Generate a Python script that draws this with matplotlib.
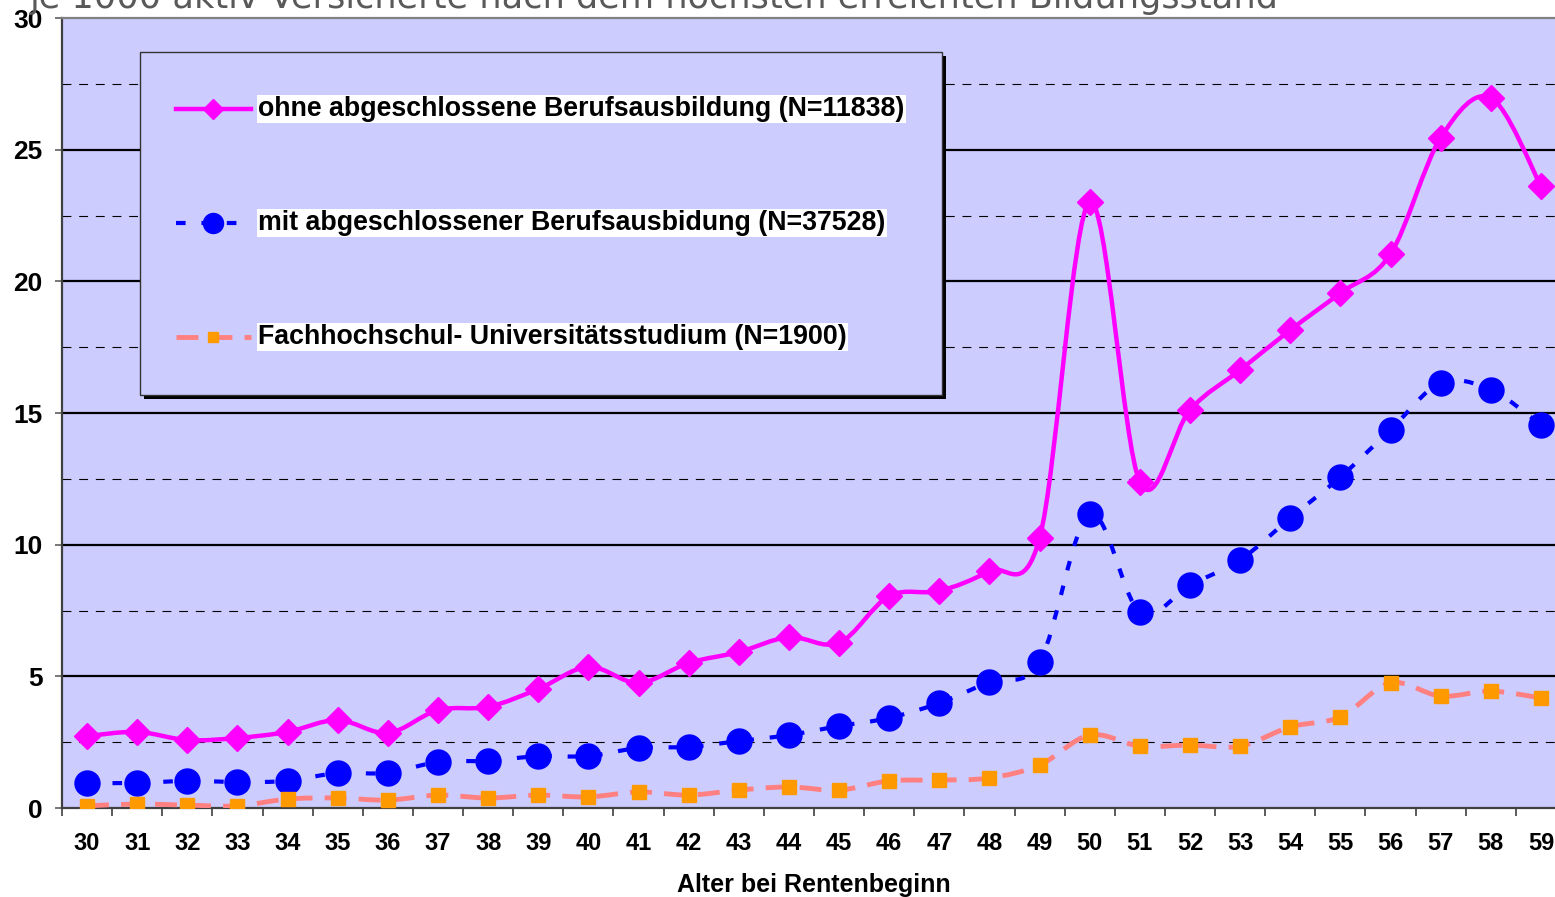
import numpy as np
import matplotlib
matplotlib.use("Agg")
import matplotlib.pyplot as plt
from matplotlib.path import Path
from matplotlib.patches import PathPatch, Rectangle
from matplotlib.lines import Line2D

# Daten: je 1000 aktiv Versicherte, nach Alter bei Rentenbeginn
alter = list(range(30, 60))
ohne_ausbildung = [2.73, 2.89, 2.58, 2.66, 2.89, 3.34, 2.85, 3.72, 3.84, 4.52,
                   5.36, 4.75, 5.51, 5.92, 6.49, 6.27, 8.05, 8.24, 9.00, 10.25,
                   23.02, 12.38, 15.12, 16.63, 18.15, 19.56, 21.04, 25.45, 26.97, 23.62]
mit_ausbildung = [0.95, 0.95, 1.03, 0.99, 1.03, 1.33, 1.33, 1.75, 1.79, 1.97,
                  1.97, 2.28, 2.32, 2.54, 2.77, 3.11, 3.42, 3.99, 4.79, 5.55,
                  11.17, 7.44, 8.47, 9.42, 11.01, 12.57, 14.36, 16.14, 15.88, 14.55]
studium = [0.08, 0.15, 0.11, 0.08, 0.34, 0.38, 0.30, 0.49, 0.38, 0.49,
           0.42, 0.61, 0.49, 0.68, 0.80, 0.68, 1.03, 1.06, 1.14, 1.63,
           2.77, 2.35, 2.39, 2.35, 3.08, 3.46, 4.75, 4.25, 4.44, 4.18]
labels = ["ohne abgeschlossene Berufsausbildung (N=11838)",
          "mit abgeschlossener Berufsausbidung (N=37528)",
          "Fachhochschul- Universitätsstudium (N=1900)"]
titel = "je 1000 aktiv Versicherte nach dem höchsten erreichten Bildungsstand"
xlabel = "Alter bei Rentenbeginn"

W, H = 1555, 897
BG = "#CCCCFF"


def fx(px):
    return px / W


def fy(py):
    return 1 - py / H


def smooth_path(xs, ys):
    # geglättete Linie wie in Excel: Bezier-Segmente zwischen den Punkten
    p = np.column_stack([xs, ys]).astype(float)
    n = len(p)
    verts = [p[0]]
    codes = [Path.MOVETO]
    for i in range(n - 1):
        p0 = p[i - 1] if i > 0 else p[i]
        p3 = p[i + 2] if i + 2 < n else p[i + 1]
        c1 = p[i] + (p[i + 1] - p0) / 6
        c2 = p[i + 1] - (p3 - p[i]) / 6
        verts += [c1, c2, p[i + 1]]
        codes += [Path.CURVE4] * 3
    return Path(verts, codes)


plt.rcParams['font.family'] = ['Liberation Sans', 'DejaVu Sans']

fig = plt.figure(figsize=(W / 100, H / 100), dpi=100)
ax = fig.add_axes([fx(62), fy(808), fx(1566) - fx(62), fy(18) - fy(808)])
ax.set_facecolor(BG)
ax.set_xlim(29.5, 59.5)
ax.set_ylim(0, 30)

# Gitternetz
for v in np.arange(5, 30, 5):
    ax.axhline(v, color="black", lw=1.6, zorder=1)
for v in np.arange(2.5, 30, 5):
    ax.axhline(v, color="black", lw=0.8, ls=(0, (8, 7)), zorder=1)

styles = [
    dict(data=ohne_ausbildung, color="#FF00FF", lw=3.2, ls="-",
         marker="D", ms=13, mfc="#FF00FF", mec="#FF00FF"),
    dict(data=mit_ausbildung, color="#0000FF", lw=3, ls=(0, (2.3, 3.8)),
         marker="o", ms=18, mfc="#0000FF", mec="#0000FF"),
    dict(data=studium, color="#FF8080", lw=3.5, ls=(0, (4.5, 2.5)),
         marker="s", ms=9.5, mfc="#FF9900", mec="#FF9900"),
]

for s in styles:
    path = smooth_path(alter, s["data"])
    ax.add_patch(PathPatch(path, fill=False, edgecolor=s["color"], lw=s["lw"],
                           ls=s["ls"], capstyle="butt", zorder=3))
    ax.plot(alter, s["data"], ls="none", marker=s["marker"], ms=s["ms"],
            mfc=s["mfc"], mec=s["mec"], mew=1, zorder=4)

# Achsen
ax.set_yticks(np.arange(0, 31, 5))
ax.set_yticklabels([str(v) for v in range(0, 31, 5)], fontsize=19, fontweight="bold")
ax.tick_params(axis="y", length=5, width=1.2, color="#606060", pad=9)
ax.set_xticks(alter)
ax.set_xticklabels([str(a) for a in alter], fontsize=17, fontweight="bold")
ax.set_xticks(np.arange(29.5, 60, 1), minor=True)
ax.tick_params(axis="x", which="major", length=0, pad=17)
ax.tick_params(axis="x", which="minor", length=6, width=1.2, color="#404040")
ax.set_xlabel(xlabel, fontsize=18, fontweight="bold", labelpad=13.5)

ax.spines["left"].set_color("#404040")
ax.spines["left"].set_linewidth(1.6)
ax.spines["top"].set_color("#808080")
ax.spines["top"].set_linewidth(1.6)
ax.spines["bottom"].set_color("#404040")
ax.spines["bottom"].set_linewidth(1.6)
ax.spines["right"].set_visible(False)

# Legende
lx0, ly0, lx1, ly1 = 140, 52, 942, 395
fig.patches.append(Rectangle((fx(lx0 + 4), fy(ly1 + 4)), fx(lx1 - lx0), fy(ly0) - fy(ly1),
                             transform=fig.transFigure, facecolor="black",
                             edgecolor="none", zorder=9))
fig.patches.append(Rectangle((fx(lx0), fy(ly1)), fx(lx1 - lx0), fy(ly0) - fy(ly1),
                             transform=fig.transFigure, facecolor=BG,
                             edgecolor="#333333", lw=1, zorder=10))
rows = [109, 223, 337]
for s, lab, ry in zip(styles, labels, rows):
    fig.add_artist(Line2D([fx(176), fx(251)], [fy(ry), fy(ry)],
                          transform=fig.transFigure, color=s["color"], lw=s["lw"],
                          ls=s["ls"], dash_capstyle="butt", zorder=11))
    fig.add_artist(Line2D([fx(213)], [fy(ry)], transform=fig.transFigure,
                          marker=s["marker"], ms=s["ms"] * 0.8, mfc=s["mfc"],
                          mec=s["mec"], ls="none", zorder=12))
    fig.text(fx(258), fy(ry), lab, fontsize=19.3, fontweight="bold", va="center",
             ha="left", zorder=13,
             bbox=dict(boxstyle="square,pad=0.05", facecolor="white", edgecolor="none"))

# abgeschnittener Titel oben
fig.text(fx(30), fy(8), titel, fontsize=25.3, color="#595959",
         family="DejaVu Sans", va="baseline", ha="left")

fig.savefig("out.png", dpi=100)
